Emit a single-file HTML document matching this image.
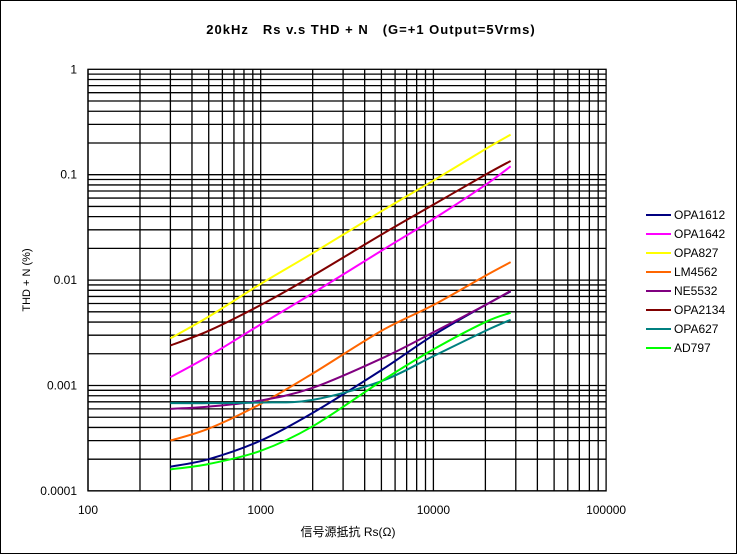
<!DOCTYPE html>
<html><head><meta charset="utf-8"><style>
html,body{margin:0;padding:0;background:#fff}
svg{display:block;font-family:"Liberation Sans","Noto Sans CJK JP",sans-serif}
</style></head><body>
<svg id="chart" width="743" height="558" viewBox="0 0 743 558" xmlns="http://www.w3.org/2000/svg">
<rect x="0.5" y="0.5" width="736" height="553" fill="#fff" stroke="#000" stroke-width="1"/>
<text x="371" y="34" text-anchor="middle" font-size="13" font-weight="bold" letter-spacing="1">20kHz　Rs v.s THD + N　(G=+1 Output=5Vrms)</text>
<g id="grid"></g>
<g id="ticks"></g>
<g id="series"></g>
<g id="legend"></g>
<text x="30" y="280" text-anchor="middle" font-size="11" transform="rotate(-90 30 280)">THD + N (%)</text>
<text x="348" y="536" text-anchor="middle" font-size="12">信号源抵抗 Rs(Ω)</text>
</svg>
<script>
const rsValues = [300, 500, 1000, 2000, 5000, 10000, 20000, 28000];
const seriesNames = ["OPA1612","OPA1642","OPA827","LM4562","NE5532","OPA2134","OPA627","AD797"];
const seriesColors = ["#000080","#ff00ff","#ffff00","#ff6600","#800080","#800000","#008080","#00ff00"];
const opa1612 = [0.00017,0.00020,0.00030,0.00055,0.0014,0.0030,0.0058,0.0078];
const opa1642 = [0.0012,0.0019,0.0038,0.0075,0.019,0.038,0.08,0.12];
const opa827 = [0.0028,0.0045,0.0092,0.018,0.045,0.088,0.175,0.24];
const lm4562 = [0.0003,0.00039,0.00067,0.0013,0.0033,0.0058,0.011,0.0148];
const ne5532 = [0.0006,0.00063,0.00072,0.00095,0.0018,0.0032,0.0058,0.0079];
const opa2134 = [0.0024,0.0033,0.0058,0.011,0.027,0.052,0.1,0.135];
const opa627 = [0.00068,0.00068,0.00069,0.00073,0.0011,0.0019,0.0033,0.0042];
const ad797 = [0.00016,0.00018,0.00024,0.00041,0.0011,0.0022,0.0040,0.0049];
const xTickLabels = ["100","1000","10000","100000"];
const yTickLabels = ["1","0.1","0.01","0.001","0.0001"];

const NS="http://www.w3.org/2000/svg";
const X0=88, XD=172.7, Y0=69.3, YD=105.4;
const xs=v=>X0+(Math.log10(v)-2)*XD;
const ys=v=>Y0-(Math.log10(v))*YD;
function mk(tag,attrs,parent){const e=document.createElementNS(NS,tag);for(const k in attrs)e.setAttribute(k,attrs[k]);parent.appendChild(e);return e;}
const grid=document.getElementById('grid');
for(let d=2;d<5;d++)for(let m=1;m<10;m++){const x=xs(m*Math.pow(10,d));
 const l=mk('line',{x1:x,x2:x,y1:ys(1),y2:ys(0.0001),stroke:'#000','stroke-width':1.3},grid);
 
 }
for(let d=-4;d<0;d++)for(let m=1;m<10;m++){const y=ys(m*Math.pow(10,d));
 const l=mk('line',{x1:xs(100),x2:xs(100000),y1:y,y2:y,stroke:'#000','stroke-width':1.3},grid);
 
 }
const box=mk('rect',{x:xs(100),y:ys(1),width:xs(100000)-xs(100),height:ys(0.0001)-ys(1),fill:'none',stroke:'#000','stroke-width':1.3},grid);


const ticks=document.getElementById('ticks');
xTickLabels.forEach(t=>{const e=mk('text',{x:xs(+t),y:514,'text-anchor':'middle','font-size':12},ticks);e.textContent=t;
 
 });
yTickLabels.forEach(t=>{const e=mk('text',{x:77,y:ys(+t)+4,'text-anchor':'end','font-size':12},ticks);e.textContent=t;
 
 });
const allSeries=[opa1612,opa1642,opa827,lm4562,ne5532,opa2134,opa627,ad797];
const sg=document.getElementById('series');
function smooth(pts){let d=`M${pts[0][0]},${pts[0][1]}`;
 for(let i=0;i<pts.length-1;i++){const p0=pts[i-1]||pts[i],p1=pts[i],p2=pts[i+1],p3=pts[i+2]||p2;
  const c1=[p1[0]+(p2[0]-p0[0])/6,p1[1]+(p2[1]-p0[1])/6],c2=[p2[0]-(p3[0]-p1[0])/6,p2[1]-(p3[1]-p1[1])/6];
  d+=` C${c1[0]},${c1[1]} ${c2[0]},${c2[1]} ${p2[0]},${p2[1]}`;}
 return d;}
allSeries.forEach((vals,i)=>{const pts=vals.map((v,j)=>[xs(rsValues[j]),ys(v)]);
 const p=mk('path',{d:smooth(pts),fill:'none',stroke:seriesColors[i],'stroke-width':2},sg);
 
 });
const lg=document.getElementById('legend');
seriesNames.forEach((n,i)=>{const y=215+i*19;
 const g=mk('g',{},lg);
 
 
 mk('line',{x1:646,x2:671,y1:y,y2:y,stroke:seriesColors[i],'stroke-width':2},g);
 const t=mk('text',{x:674,y:y+4,'font-size':12},g);t.textContent=n;});
</script>
</body></html>
